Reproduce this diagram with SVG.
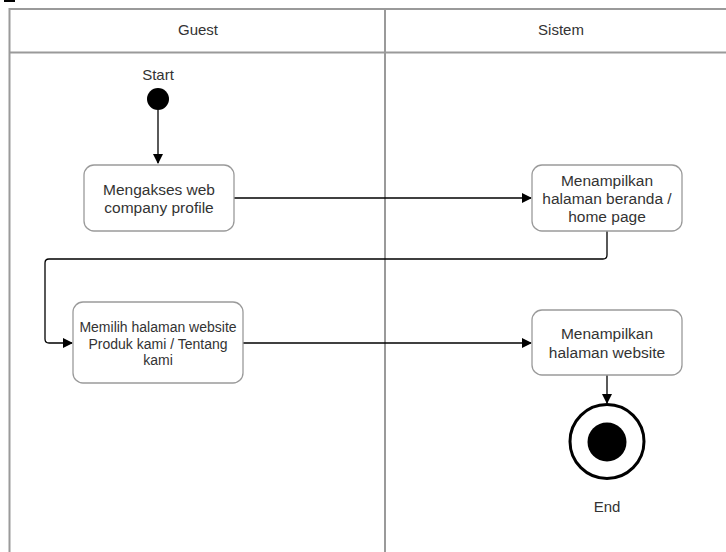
<svg xmlns="http://www.w3.org/2000/svg" width="726" height="552" viewBox="0 0 726 552">
<style>
.lane{fill:none;stroke:#9a9a9a;stroke-width:2}
.node{fill:#fff;stroke:#9a9a9a;stroke-width:1.3}
.t{font-family:"Liberation Sans",Arial,sans-serif;font-size:15.5px;fill:#333;text-anchor:middle}
.h{font-size:15px}
.s{font-size:14px}
.c{fill:none;stroke:#000;stroke-width:1.3}
</style>
<defs>
<marker id="ah" markerWidth="10" markerHeight="10" refX="9" refY="5" orient="auto" markerUnits="userSpaceOnUse">
<path d="M0,0 L10,5 L0,10 Z" fill="#000"/>
</marker>
</defs>
<rect width="726" height="552" fill="#fff"/>
<rect x="4" y="0" width="11" height="2" fill="#000"/>
<g id="lanes">
<path class="lane" d="M9.5,552 V9 H726 M9.5,52.5 H726 M385,9 V552"/>
<text class="t h" x="198" y="35">Guest</text>
<text class="t h" x="561" y="35">Sistem</text>
</g>
<g id="connectors">
<path class="c" d="M158,110 V163" marker-end="url(#ah)"/>
<path class="c" d="M234,198 H531" marker-end="url(#ah)"/>
<path class="c" d="M607,231 V255 Q607,259 603,259 H49 Q45,259 45,263 V339 Q45,343 49,343 H72" marker-end="url(#ah)"/>
<path class="c" d="M243,343 H531" marker-end="url(#ah)"/>
<path class="c" d="M607,375 V403" marker-end="url(#ah)"/>
</g>
<g id="start">
<text class="t h" x="158" y="80">Start</text>
<circle cx="158" cy="99" r="11" fill="#000"/>
</g>
<g id="n1">
<rect class="node" x="84" y="165" width="150" height="66" rx="10"/>
<text class="t" x="159" y="195">Mengakses web</text>
<text class="t" x="159" y="213">company profile</text>
</g>
<g id="n2">
<rect class="node" x="532" y="165" width="150" height="66" rx="10"/>
<text class="t" x="607" y="186">Menampilkan</text>
<text class="t" x="607" y="204">halaman beranda /</text>
<text class="t" x="607" y="222">home page</text>
</g>
<g id="n3">
<rect class="node" x="73" y="302" width="170" height="81" rx="10"/>
<text class="t s" x="158" y="332">Memilih halaman website</text>
<text class="t s" x="158" y="349">Produk kami / Tentang</text>
<text class="t s" x="158" y="365">kami</text>
</g>
<g id="n4">
<rect class="node" x="532" y="310" width="150" height="65" rx="10"/>
<text class="t" x="607" y="339">Menampilkan</text>
<text class="t" x="607" y="358">halaman website</text>
</g>
<g id="end">
<circle cx="607" cy="441.5" r="37" fill="#fff" stroke="#000" stroke-width="3"/>
<circle cx="607" cy="442" r="19.5" fill="#000"/>
<text class="t h" x="607" y="512">End</text>
</g>
</svg>
